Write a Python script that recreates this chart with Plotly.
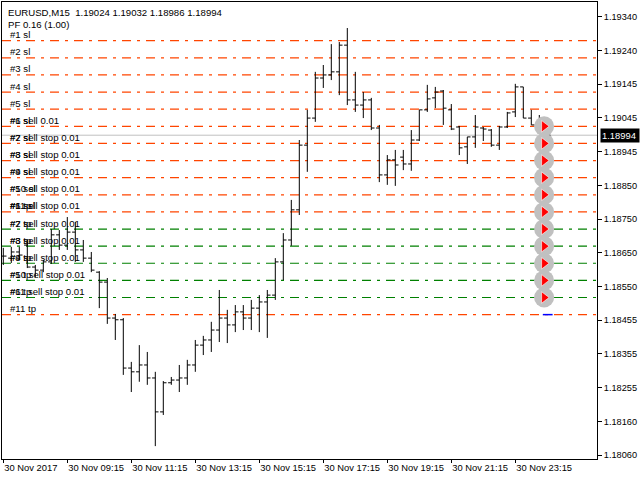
import plotly.graph_objects as go
import numpy as np
import pandas as pd

# ---------------- data ----------------
header_text = "EURUSD,M15\u00a0\u00a01.19024 1.19032 1.18986 1.18994"
pf_text = "PF 0.16 (1.00)"

bar_times = pd.date_range("2017-11-30 07:15", periods=69, freq="15min").strftime("%d %b %H:%M").tolist()

opens = [1.18641, 1.18635, 1.18653, 1.18673, 1.18609, 1.18600, 1.18624, 1.18703, 1.18673, 1.18711,
         1.18659, 1.18635, 1.18594, 1.18565, 1.18460, 1.18455, 1.18314, 1.18303, 1.18323, 1.18285,
         1.18186, 1.18271, 1.18279, 1.18285, 1.18323, 1.18381, 1.18396, 1.18425, 1.18460, 1.18440,
         1.18478, 1.18460, 1.18489, 1.18507, 1.18527, 1.18624, 1.18688, 1.18776, 1.18965, 1.19044,
         1.19161, 1.19170, 1.19179, 1.19257, 1.19097, 1.19082, 1.19097, 1.19015, 1.18878, 1.18922,
         1.18930, 1.18910, 1.18980, 1.19068, 1.19103, 1.19123, 1.19068, 1.19018, 1.18960, 1.18989,
         1.19015, 1.19009, 1.18965, 1.19018, 1.19062, 1.19135, 1.19044, 1.19024, 1.19024]
highs = [1.18665, 1.18668, 1.18668, 1.18688, 1.18615, 1.18630, 1.18720, 1.18717, 1.18755, 1.18741,
         1.18688, 1.18653, 1.18597, 1.18577, 1.18472, 1.18460, 1.18332, 1.18381, 1.18361, 1.18303,
         1.18276, 1.18288, 1.18323, 1.18338, 1.18396, 1.18408, 1.18449, 1.18542, 1.18484, 1.18498,
         1.18498, 1.18513, 1.18527, 1.18542, 1.18635, 1.18708, 1.18805, 1.18980, 1.19068, 1.19179,
         1.19199, 1.19260, 1.19266, 1.19307, 1.19179, 1.19120, 1.19103, 1.19024, 1.18936, 1.18951,
         1.18951, 1.19009, 1.19068, 1.19141, 1.19135, 1.19126, 1.19085, 1.19021, 1.18989, 1.19053,
         1.19018, 1.19012, 1.19021, 1.19062, 1.19144, 1.19135, 1.19068, 1.19053, 1.19032]
lows = [1.18615, 1.18621, 1.18630, 1.18606, 1.18580, 1.18594, 1.18618, 1.18659, 1.18659, 1.18624,
        1.18624, 1.18594, 1.18489, 1.18443, 1.18396, 1.18294, 1.18244, 1.18274, 1.18265, 1.18086,
        1.18177, 1.18265, 1.18244, 1.18265, 1.18303, 1.18352, 1.18361, 1.18390, 1.18387, 1.18419,
        1.18425, 1.18425, 1.18419, 1.18402, 1.18513, 1.18571, 1.18671, 1.18761, 1.18887, 1.19033,
        1.19132, 1.19155, 1.19111, 1.19082, 1.19062, 1.19044, 1.19009, 1.18857, 1.18849, 1.18846,
        1.18892, 1.18890, 1.18977, 1.19062, 1.19073, 1.19024, 1.19009, 1.18936, 1.18910, 1.18957,
        1.18977, 1.18960, 1.18951, 1.19015, 1.19047, 1.19044, 1.19024, 1.19009, 1.18986]
closes = [1.18641, 1.18653, 1.18644, 1.18609, 1.18600, 1.18624, 1.18703, 1.18673, 1.18711, 1.18659,
          1.18635, 1.18600, 1.18565, 1.18460, 1.18455, 1.18314, 1.18303, 1.18323, 1.18285, 1.18186,
          1.18271, 1.18279, 1.18285, 1.18323, 1.18381, 1.18396, 1.18425, 1.18460, 1.18440, 1.18478,
          1.18460, 1.18489, 1.18507, 1.18527, 1.18624, 1.18688, 1.18776, 1.18965, 1.19044, 1.19161,
          1.19170, 1.19179, 1.19257, 1.19097, 1.19082, 1.19097, 1.19015, 1.18878, 1.18922, 1.18907,
          1.18910, 1.18980, 1.19068, 1.19100, 1.19120, 1.19073, 1.19012, 1.18957, 1.18989, 1.19018,
          1.19012, 1.18965, 1.19018, 1.19059, 1.19135, 1.19044, 1.19024, 1.19024, 1.18994]

x_tick_index = [0, 8, 16, 24, 32, 40, 48, 56, 64]
x_tick_labels = ["30 Nov 2017", "30 Nov 09:15", "30 Nov 11:15", "30 Nov 13:15", "30 Nov 15:15",
                 "30 Nov 17:15", "30 Nov 19:15", "30 Nov 21:15", "30 Nov 23:15"]

y_tick_labels = ["1.19340", "1.19240", "1.19145", "1.19045", "1.18945", "1.18850", "1.18750",
                 "1.18650", "1.18550", "1.18455", "1.18355", "1.18255", "1.18160", "1.18060"]
y_tick_top, y_tick_bottom = 1.19340, 1.18060

level_prices = [1.19270, 1.19220, 1.19170, 1.19120, 1.19070, 1.19020, 1.18970, 1.18920, 1.18870,
                1.18820, 1.18770, 1.18720, 1.18670, 1.18620, 1.18570, 1.18520, 1.18470]
level_types = ["sl"] * 11 + ["stop"] * 5 + ["tp"]
level_labels = [
    ["#1 sl"], ["#2 sl"], ["#3 sl"], ["#4 sl"], ["#5 sl"],
    ["#6 sl", "#1 sell 0.01"],
    ["#7 sl", "#2 sell stop 0.01"],
    ["#8 sl", "#3 sell stop 0.01"],
    ["#9 sl", "#4 sell stop 0.01"],
    ["#10 sl", "#5 sell stop 0.01"],
    ["#11 sl", "#6 sell stop 0.01", "#1 tp"],
    ["#7 sell stop 0.01", "#2 tp"],
    ["#8 sell stop 0.01", "#3 tp"],
    ["#9 sell stop 0.01", "#4 tp"],
    ["#10 sell stop 0.01", "#5 tp"],
    ["#11 sell stop 0.01", "#6 tp"],
    ["#11 tp"],
]
order_prices = level_prices[5:16]
tp_mark_prices = level_prices[11:17]
current_price = 1.18994

# ---------------- styles ----------------
FONT = "Liberation Sans, Arial, sans-serif"
ORANGE = "#FF4500"
GREEN = "#008000"
W, H = 640, 480
ML, MR, MT, MB = 2, 43, 2, 21
PW, PH = W - ML - MR, H - MT - MB
BAR_PX = 8
x0 = -1.3 / BAR_PX
xr = [x0, x0 + PW / BAR_PX]
yr = [1.180484, 1.193830]

n = len(opens)
xs = list(range(n))

fig = go.Figure()

circ_x = [n - 1 - 0.4] * len(order_prices)
fig.add_trace(go.Scatter(x=[n - 1 + 0.05] * len(tp_mark_prices), y=tp_mark_prices, mode="markers",
                         marker=dict(symbol="line-ew", size=7, line=dict(color="#0000FF", width=1.5)),
                         hoverinfo="skip", showlegend=False))
fig.add_trace(go.Scatter(x=circ_x, y=order_prices, mode="markers",
                         marker=dict(symbol="circle", size=20, color="#C0C0C0", line=dict(width=0)),
                         hoverinfo="skip", showlegend=False))

fig.add_trace(go.Ohlc(x=xs, open=opens, high=highs, low=lows, close=closes, text=bar_times,
                      increasing=dict(line=dict(color="black", width=1)),
                      decreasing=dict(line=dict(color="black", width=1)),
                      tickwidth=0.4, showlegend=False))

fig.add_trace(go.Scatter(x=circ_x, y=order_prices, mode="markers",
                         marker=dict(symbol="triangle-right", size=10, color="#FF0000",
                                     line=dict(color="#FFFFFF", width=0.6)),
                         hoverinfo="skip", showlegend=False))

shapes = []
for p, t in zip(level_prices, level_types):
    shapes.append(dict(type="line", xref="paper", x0=0, x1=1, yref="y", y0=p, y1=p, layer="below",
                       line=dict(color=GREEN if t == "stop" else ORANGE, width=1.2,
                                 dash="9px,6px,3px,6px")))
shapes.append(dict(type="line", xref="paper", x0=0, x1=1, yref="y", y0=current_price, y1=current_price,
                   layer="below", line=dict(color="#C0C0C0", width=1)))

annotations = []
for p, labs in zip(level_prices, level_labels):
    for lab in labs:
        annotations.append(dict(text=lab, xref="paper", x=6 / PW, xanchor="left", yref="y", y=p,
                                yanchor="middle", yshift=6, showarrow=False,
                                font=dict(family=FONT, size=9.6, color="black")))
annotations.append(dict(text=header_text, xref="paper", x=4 / PW, xanchor="left", yref="paper",
                        y=1 - 10 / PH, yanchor="middle", showarrow=False,
                        font=dict(family=FONT, size=9.6, color="black")))
annotations.append(dict(text=pf_text, xref="paper", x=4 / PW, xanchor="left", yref="paper",
                        y=1 - 22 / PH, yanchor="middle", showarrow=False,
                        font=dict(family=FONT, size=9.6, color="black")))
annotations.append(dict(text=f"{current_price:.5f}", xref="paper", x=1 + 3 / PW, xanchor="left",
                        yref="y", y=current_price, yanchor="middle", showarrow=False,
                        bgcolor="black", borderpad=1, width=36, align="left",
                        font=dict(family=FONT, size=9.4, color="white")))

fig.update_layout(
    width=W, height=H, autosize=False,
    margin=dict(l=ML, r=MR, t=MT, b=MB, autoexpand=False),
    paper_bgcolor="white", plot_bgcolor="white",
    shapes=shapes, annotations=annotations, showlegend=False,
    xaxis=dict(range=xr, showgrid=False, zeroline=False, showline=True, mirror=True,
               linecolor="black", linewidth=1, ticks="outside", ticklen=3, tickcolor="black",
               tickvals=x_tick_index, ticktext=x_tick_labels, ticklabelposition="outside right",
               tickangle=0, automargin=False,
               tickfont=dict(family=FONT, size=9.4, color="black"), rangeslider=dict(visible=False),
               fixedrange=True),
    yaxis=dict(range=yr, side="right", showgrid=False, zeroline=False, showline=True, mirror=True,
               linecolor="black", linewidth=1, ticks="outside", ticklen=4, tickcolor="black",
               tickvals=list(np.linspace(y_tick_top, y_tick_bottom, len(y_tick_labels))),
               ticktext=y_tick_labels, tickfont=dict(family=FONT, size=9.2, color="black"),
               automargin=False, fixedrange=True),
)

fig.write_html("out.html", config={"displayModeBar": False},
               post_script="document.body.style.margin='0';document.body.style.padding='0';")
